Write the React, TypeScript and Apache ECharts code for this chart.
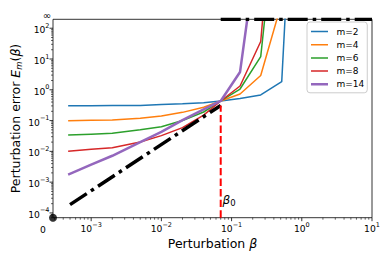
import React, { useEffect, useRef } from "react";
import * as echarts from "echarts";

// ---- data ----
const betaGrid = [4.7e-4, 1e-3, 2e-3, 5e-3, 1e-2, 2e-2, 4e-2, 0.07, 0.132, 0.26, 0.518, 1.0];
const errM2 = [0.304, 0.305, 0.307, 0.31, 0.33, 0.35, 0.38, 0.433, 0.52, 0.68, 1.84, 5e12];
const errM4 = [0.0986, 0.1016, 0.104, 0.12, 0.14, 0.185, 0.27, 0.433, 0.73, 2.9, 680, 1e14];
const errM6 = [0.0337, 0.0363, 0.039, 0.05, 0.063, 0.1, 0.19, 0.433, 1.06, 12, 3e7, 1e14];
const errM8 = [0.0101, 0.0118, 0.0132, 0.0202, 0.0324, 0.059, 0.151, 0.433, 1.33, 37, 2.5e9, 1e14];
const errM14 = [0.00176, 0.0037, 0.0072, 0.02, 0.043, 0.104, 0.232, 0.433, 3.8, 3e5, 1e14, 1e14];
const seriesNames = ["m=2", "m=4", "m=6", "m=8", "m=14"];
const seriesValues = [errM2, errM4, errM6, errM8, errM14];

const boundBeta = [5e-4, 0.07];
const boundErr = [1.86e-4, 0.31];
const beta0 = 0.07;

const xTickExponents = [-3, -2, -1, 0, 1];
const yTickExponents = [-4, -3, -2, -1, 0, 1, 2];

// axis limits ("0" at the bottom/left, "∞" at the top)
const xMin = 2.86e-4;
const xMax = 10;
const yMin = 7e-5;
const yMax = 195;

// ---- styles ----
const COLORS = ["#1f77b4", "#ff7f0e", "#2ca02c", "#d62728", "#9467bd"];
const WIDTHS = [1.5, 1.5, 1.5, 1.5, 2.5];
const FONT = "DejaVu Sans";
const ICON_THIN = "path://M0,0h17v0.01h-17zM0,4.25h17v1.5h-17zM0,9.99h17v0.01h-17z";
const ICON_THICK = "path://M0,0h17v0.01h-17zM0,3.75h17v2.5h-17zM0,9.99h17v0.01h-17z";

function tickItems(exps: number[], lo: number, hi: number, majorKind: number) {
  const out: number[][] = [];
  const eLo = Math.floor(Math.log10(lo));
  const eHi = Math.ceil(Math.log10(hi));
  for (let e = eLo; e <= eHi; e++) {
    for (let k = 1; k <= 9; k++) {
      const v = k * Math.pow(10, e);
      if (v < lo * 0.9999 || v > hi * 1.0001) continue;
      if (k === 1 && exps.indexOf(e) >= 0) out.push([v, majorKind]);
      else if (k !== 1) out.push([v, majorKind + 1]);
    }
  }
  return out;
}

function expLabel(v: number) {
  const e = Math.log10(v);
  const r = Math.round(e);
  if (Math.abs(e - r) > 1e-6) return "";
  const s = r < 0 ? "\u2212" + -r : String(r);
  return `{b|10}{s|${s}}`;
}

const labelRich = {
  b: { fontSize: 9.2, fontFamily: FONT, color: "#000", lineHeight: 12, verticalAlign: "bottom" },
  s: { fontSize: 6.5, fontFamily: FONT, color: "#000", lineHeight: 12, verticalAlign: "top" },
};

export default function App() {
  const ref = useRef<HTMLDivElement>(null);
  useEffect(() => {
    if (!ref.current) return;
    const chart = echarts.init(ref.current, null, { renderer: "svg" });

    const ticks = [
      ...tickItems(xTickExponents, xMin, xMax, 1),
      ...tickItems(yTickExponents, yMin, yMax, 3),
    ];

    const lineSeries = seriesNames.map((name, i) => ({
      name,
      type: "line",
      data: betaGrid.map((b, j) => [b, seriesValues[i][j]]),
      symbol: "none",
      showSymbol: false,
      clip: true,
      lineStyle: { color: COLORS[i], width: WIDTHS[i] },
      itemStyle: { color: COLORS[i] },
      z: 3,
    }));

    const option: any = {
      animation: false,
      grid: {
        left: 53,
        top: 19.3,
        right: 18,
        bottom: 42.3,
        show: true,
        borderColor: "#000",
        borderWidth: 0.8,
        backgroundColor: "transparent",
        outerBoundsMode: "none",
      },
      xAxis: {
        type: "log",
        logBase: 10,
        min: xMin,
        max: xMax,
        axisLine: { show: false },
        axisTick: { show: false },
        splitLine: { show: false },
        axisLabel: { margin: 3.5, formatter: expLabel, rich: labelRich, showMinLabel: true, showMaxLabel: true },
      },
      yAxis: {
        type: "log",
        logBase: 10,
        min: yMin,
        max: yMax,
        axisLine: { show: false },
        axisTick: { show: false },
        splitLine: { show: false },
        axisLabel: { margin: 3.5, formatter: expLabel, rich: labelRich },
      },
      legend: {
        orient: "vertical",
        left: 307,
        top: 22,
        data: seriesNames.map((n, i) => ({ name: n, icon: i === 4 ? ICON_THICK : ICON_THIN })),
        itemWidth: 17,
        itemHeight: 10,
        itemGap: 0.2,
        padding: [3, 3, 2, 4],
        borderColor: "#cccccc",
        borderWidth: 1,
        borderRadius: 3,
        backgroundColor: "rgba(255,255,255,0.8)",
        textStyle: { fontFamily: FONT, fontSize: 9, color: "#000", lineHeight: 13, padding: [0, 0, 0, 3.5] },
      },
      series: [
        ...lineSeries,
        {
          name: "bound",
          type: "line",
          data: boundBeta.map((b, j) => [b, boundErr[j]]),
          symbol: "none",
          clip: true,
          lineStyle: { color: "#000", width: 3.5, type: [20, 5, 3.5, 5], cap: "butt" },
          z: 4,
        },
        {
          name: "boundInf",
          type: "line",
          data: [
            [beta0, yMax],
            [xMax, yMax],
          ],
          symbol: "none",
          clip: true,
          lineStyle: { color: "#000", width: 3.5, type: [20, 5, 3.5, 5], cap: "butt" },
          z: 4,
        },
        {
          name: "beta0",
          type: "line",
          data: [
            [beta0, yMin],
            [beta0, boundErr[1]],
          ],
          symbol: "none",
          clip: true,
          lineStyle: { color: "#ff0000", width: 2, type: [7.4, 3.2] },
          z: 5,
        },
        {
          name: "origin",
          type: "scatter",
          data: [[xMin, yMin]],
          symbol: "circle",
          symbolSize: 8,
          clip: false,
          itemStyle: { color: "#000" },
          z: 10,
        },
        {
          name: "ticks",
          type: "custom",
          data: ticks,
          clip: false,
          silent: true,
          z: 6,
          renderItem: (params: any, api: any) => {
            const v = api.value(0);
            const kind = api.value(1);
            const cs = params.coordSys;
            if (kind <= 2) {
              const px = api.coord([v, yMax])[0];
              const y0 = cs.y + cs.height;
              const len = kind === 1 ? 3.5 : 2;
              return {
                type: "line",
                shape: { x1: px, y1: y0, x2: px, y2: y0 + len },
                style: { stroke: "#000", lineWidth: kind === 1 ? 0.8 : 0.6 },
              };
            }
            const py = api.coord([xMax, v])[1];
            const x0 = cs.x;
            const len = kind === 3 ? 3.5 : 2;
            return {
              type: "line",
              shape: { x1: x0 - len, y1: py, x2: x0, y2: py },
              style: { stroke: "#000", lineWidth: kind === 3 ? 0.8 : 0.6 },
            };
          },
        },
      ],
      graphic: [
        {
          type: "text",
          x: 43,
          y: 229,
          style: { text: "0", fontFamily: FONT, fontSize: 9.2, fill: "#000", align: "center", verticalAlign: "middle" },
        },
        {
          type: "text",
          x: 47,
          y: 15,
          style: { text: "\u221e", fontFamily: FONT, fontSize: 10, fill: "#000", align: "center", verticalAlign: "middle" },
        },
        {
          type: "text",
          x: 222.5,
          y: 200,
          style: {
            text: "{i|\u03b2}{s|0}",
            align: "left",
            verticalAlign: "middle",
            rich: {
              i: { fontFamily: FONT, fontSize: 12, fontStyle: "italic", fill: "#000", lineHeight: 15, verticalAlign: "middle" },
              s: { fontFamily: FONT, fontSize: 8.5, fill: "#000", lineHeight: 15, verticalAlign: "bottom" },
            },
          },
        },
        {
          type: "text",
          x: 212.5,
          y: 243,
          style: {
            text: "Perturbation {i|\u03b2}",
            fontFamily: FONT,
            fontSize: 12.5,
            fill: "#000",
            align: "center",
            verticalAlign: "middle",
            rich: {
              i: { fontFamily: FONT, fontSize: 12.5, fontStyle: "italic", fill: "#000" },
            },
          },
        },
        {
          type: "text",
          x: 15,
          y: 118.5,
          rotation: Math.PI / 2,
          style: {
            text: "Perturbation error {i|E}{sub|m}({i|\u03b2})",
            fontFamily: FONT,
            fontSize: 12.5,
            fill: "#000",
            align: "center",
            verticalAlign: "middle",
            lineHeight: 16,
            rich: {
              i: { fontFamily: FONT, fontSize: 12.5, fontStyle: "italic", fill: "#000", lineHeight: 16 },
              sub: { fontFamily: FONT, fontSize: 8.5, fontStyle: "italic", fill: "#000", lineHeight: 16, verticalAlign: "bottom" },
            },
          },
        },
      ],
    };

    chart.setOption(option);
    return () => chart.dispose();
  }, []);

  return <div ref={ref} style={{ position: "absolute", left: 0, top: 0, width: 390, height: 260 }} />;
}
